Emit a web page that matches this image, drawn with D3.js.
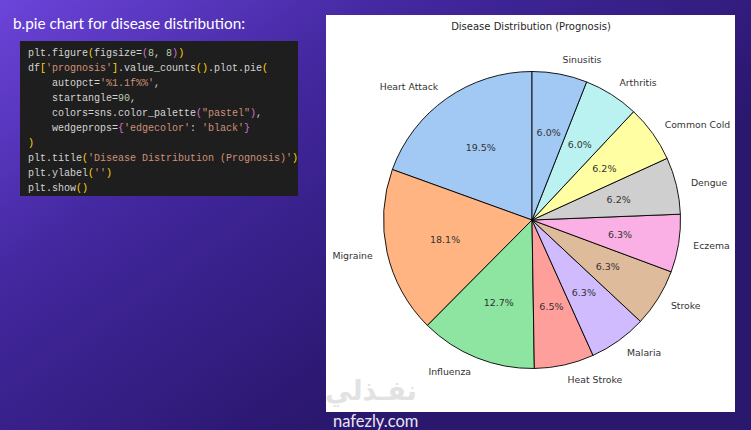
<!DOCTYPE html>
<html>
<head>
<meta charset="utf-8">
<script src="https://cdn.jsdelivr.net/npm/d3@7"></script>
<style>
  body { margin: 0; background: #2a176e; }
  svg { display: block; }
</style>
</head>
<body>
<div id="chart"></div>
<script>
// Pie data (value_counts order, shares in %)
const diseases = ['Heart Attack', 'Migraine', 'Influenza', 'Heat Stroke', 'Malaria', 'Stroke',
                  'Eczema', 'Dengue', 'Common Cold', 'Arthritis', 'Sinusitis'];
const shares = [19.5, 18.1, 12.7, 6.5, 6.3, 6.3, 6.3, 6.2, 6.2, 6.0, 6.0];
// sns.color_palette("pastel"), cycles after 10
const pastel = ['#a1c9f4', '#ffb482', '#8de5a1', '#ff9f9b', '#d0bbff',
                '#debb9b', '#fab0e4', '#cfcfcf', '#fffea3', '#b9f2f0'];

const W = 751, H = 430;

const svg = d3.select('#chart').append('svg')
    .attr('width', W)
    .attr('height', H);

// Background gradient
const defs = svg.append('defs');
const grad = defs.append('linearGradient')
    .attr('id', 'bg')
    .attr('gradientUnits', 'userSpaceOnUse')
    .attr('x1', 0).attr('y1', 0)
    .attr('x2', 300).attr('y2', 430);
grad.append('stop').attr('offset', 0).attr('stop-color', '#6c44da');
grad.append('stop').attr('offset', 0.45).attr('stop-color', '#42279e');
grad.append('stop').attr('offset', 1).attr('stop-color', '#2a176e');

svg.append('rect')
    .attr('width', W)
    .attr('height', H)
    .attr('fill', 'url(#bg)');

// Slide heading
svg.append('text')
    .attr('x', 13)
    .attr('y', 29)
    .attr('fill', '#ffffff')
    .attr('font-family', 'Lato, "Open Sans", sans-serif')
    .attr('font-size', 15.3)
    .text('b.pie chart for disease distribution:');

// Code block
const code = { x: 20, y: 41, w: 278, h: 155 };
defs.append('clipPath').attr('id', 'codeClip')
    .append('rect')
    .attr('x', code.x).attr('y', code.y)
    .attr('width', code.w).attr('height', code.h);

svg.append('rect')
    .attr('x', code.x).attr('y', code.y)
    .attr('width', code.w).attr('height', code.h)
    .attr('fill', '#1e1e1e');

const C = { d: '#d4d4d4', b1: '#ffd700', b2: '#da70d6', s: '#ce9178', n: '#b5cea8' };
const codeLines = [
    [['plt.figure', C.d], ['(', C.b1], ['figsize=', C.d], ['(', C.b2], ['8', C.n], [', ', C.d], ['8', C.n], [')', C.b2], [')', C.b1]],
    [['df', C.d], ['[', C.b1], ["'prognosis'", C.s], [']', C.b1], ['.value_counts', C.d], ['()', C.b1], ['.plot.pie', C.d], ['(', C.b1]],
    [['    autopct=', C.d], ["'%1.1f%%'", C.s], [',', C.d]],
    [['    startangle=', C.d], ['90', C.n], [',', C.d]],
    [['    colors=sns.color_palette', C.d], ['(', C.b2], ['"pastel"', C.s], [')', C.b2], [',', C.d]],
    [['    wedgeprops=', C.d], ['{', C.b2], ["'edgecolor'", C.s], [': ', C.d], ["'black'", C.s], ['}', C.b2]],
    [[')', C.b1]],
    [['plt.title', C.d], ['(', C.b1], ["'Disease Distribution (Prognosis)'", C.s], [')', C.b1]],
    [['plt.ylabel', C.d], ['(', C.b1], ["''", C.s], [')', C.b1]],
    [['plt.show', C.d], ['()', C.b1]]
];

const codeG = svg.append('g').attr('clip-path', 'url(#codeClip)');
codeG.selectAll('text')
    .data(codeLines)
    .join('text')
    .attr('x', 28)
    .attr('y', (d, i) => 55.5 + i * 15)
    .attr('font-family', '"Liberation Mono", "DejaVu Sans Mono", monospace')
    .attr('font-size', 10)
    .style('white-space', 'pre')
    .selectAll('tspan')
    .data(d => d)
    .join('tspan')
    .attr('fill', d => d[1])
    .text(d => d[0]);

// White figure panel
const panel = { x: 326, y: 15, w: 409, h: 397 };
svg.append('rect')
    .attr('x', panel.x).attr('y', panel.y)
    .attr('width', panel.w).attr('height', panel.h)
    .attr('fill', '#ffffff');

svg.append('text')
    .attr('x', 531)
    .attr('y', 29.5)
    .attr('text-anchor', 'middle')
    .attr('fill', '#262626')
    .attr('font-family', '"DejaVu Sans", sans-serif')
    .attr('font-size', 10)
    .text('Disease Distribution (Prognosis)');

// Pie: start at 90deg, counterclockwise like matplotlib
const cx = 532, cy = 220, r = 148.5;
const pie = d3.pie()
    .sort(null)
    .value(d => d)
    .startAngle(0)
    .endAngle(-2 * Math.PI);
const arcs = pie(shares);
const arc = d3.arc().innerRadius(0).outerRadius(r);
const color = d3.scaleOrdinal().domain(diseases).range(pastel);

const pieG = svg.append('g').attr('transform', `translate(${cx},${cy})`);

pieG.selectAll('path')
    .data(arcs)
    .join('path')
    .attr('d', arc)
    .attr('fill', (d, i) => color(diseases[i]))
    .attr('stroke', '#000')
    .attr('stroke-width', 0.9)
    .attr('stroke-linejoin', 'round');

const mid = d => (d.startAngle + d.endAngle) / 2;

// Category labels at 1.1 r
pieG.selectAll('.lbl')
    .data(arcs)
    .join('text')
    .attr('class', 'lbl')
    .attr('x', d => 1.1 * r * Math.sin(mid(d)))
    .attr('y', d => -1.1 * r * Math.cos(mid(d)))
    .attr('text-anchor', d => Math.sin(mid(d)) < 0 ? 'end' : 'start')
    .attr('dominant-baseline', 'central')
    .attr('fill', '#333333')
    .attr('font-family', '"DejaVu Sans", sans-serif')
    .attr('font-size', 9.3)
    .text((d, i) => diseases[i]);

// Percent labels at 0.6 r
pieG.selectAll('.pct')
    .data(arcs)
    .join('text')
    .attr('class', 'pct')
    .attr('x', d => 0.6 * r * Math.sin(mid(d)))
    .attr('y', d => -0.6 * r * Math.cos(mid(d)))
    .attr('text-anchor', 'middle')
    .attr('dominant-baseline', 'central')
    .attr('fill', '#333333')
    .attr('font-family', '"DejaVu Sans", sans-serif')
    .attr('font-size', 9.5)
    .text(d => d.value.toFixed(1) + '%');

// Watermark
svg.append('text')
    .attr('x', 371)
    .attr('y', 400)
    .attr('text-anchor', 'middle')
    .attr('fill', '#e2e2e2')
    .attr('font-family', '"DejaVu Sans", sans-serif')
    .attr('font-weight', 'bold')
    .attr('font-size', 27)
    .attr('direction', 'rtl')
    .text('نفـذلي');

svg.append('text')
    .attr('x', 333)
    .attr('y', 427)
    .attr('fill', '#e8e6f2')
    .attr('font-family', 'Lato, "Open Sans", sans-serif')
    .attr('font-size', 16.5)
    .text('nafezly.com');
</script>
</body>
</html>
